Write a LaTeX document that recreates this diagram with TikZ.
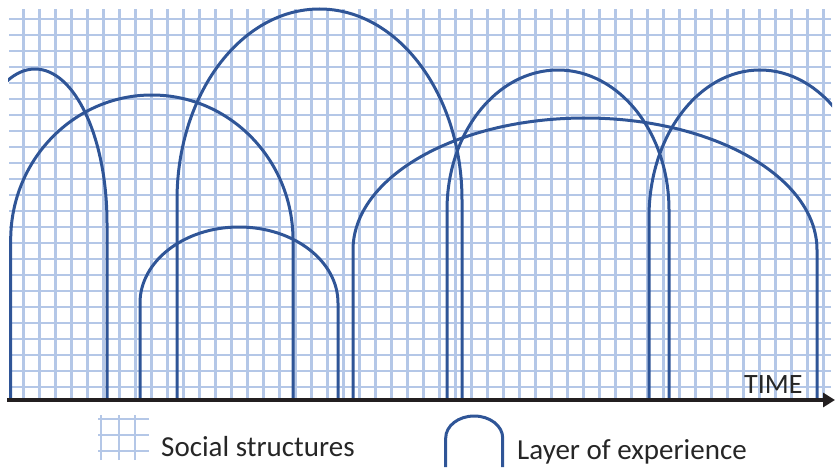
\documentclass[tikz,border=0pt]{standalone}
\usepackage{fontspec}
\setmainfont{Carlito}
\usetikzlibrary{arrows.meta}
\definecolor{gridblue}{RGB}{180,199,231}
\definecolor{layerblue}{RGB}{47,85,151}
\definecolor{axisblack}{RGB}{35,31,32}
\definecolor{labelgray}{RGB}{38,38,38}
\tikzset{gridline/.style={gridblue,line width=2.4pt},
  layer/.style={layerblue,line width=3pt},
  lbl/.style={labelgray,inner sep=0pt,anchor=base west,font=\fontsize{29}{35}\selectfont}}

\begin{document}
\begin{tikzpicture}[x=1pt,y=1pt,line join=round,>=Triangle]
\useasboundingbox (0,0) rectangle (835,467);
% --- social structures (grid) and layers of experience (arches)
\begin{scope}
\clip (8,67) rectangle (832,467);
\foreach \i in {0,...,50} {\draw[gridline] (23.3+16*\i,67) -- (23.3+16*\i,458);}
\foreach \j in {0,...,23} {\draw[gridline] (9,448-16*\j) -- (831,448-16*\j);}
\foreach \cx/\a/\ys/\b in {151.85/141.15/227/145, 35/72/244/154, 239/99/164/76, 319.5/142.5/267/191, 558/111/257/140, 585/232/217/132, 760/111/250/147}
  {\draw[layer] (\cx-\a,67) -- (\cx-\a,\ys) arc[start angle=180,end angle=0,x radius=\a,y radius=\b] -- (\cx+\a,67);}
\end{scope}
% --- time axis
\coordinate (t0) at (7,67); \coordinate (t1) at (835,67);
\draw[axisblack,line width=3.6pt,-{Triangle[length=12pt,width=14pt]}] (t0) -- (t1);
\node[lbl,font=\fontsize{28}{34}\selectfont] (time) at (744,74) {TIME};
% --- legend
\foreach \x in {101,119,135} {\draw[gridline] (\x,7) -- (\x,52);}
\foreach \y in {16,32,48} {\draw[gridline] (98,\y) -- (149,\y);}
\node[lbl] (social) at (161,11) {Social structures};
\draw[layer] (445.7,0) -- (445.7,29) arc[start angle=180,end angle=0,x radius=28.5,y radius=22] -- (502.7,0);
\node[lbl] (layer) at (517,8) {Layer of experience};
\end{tikzpicture}
\end{document}
